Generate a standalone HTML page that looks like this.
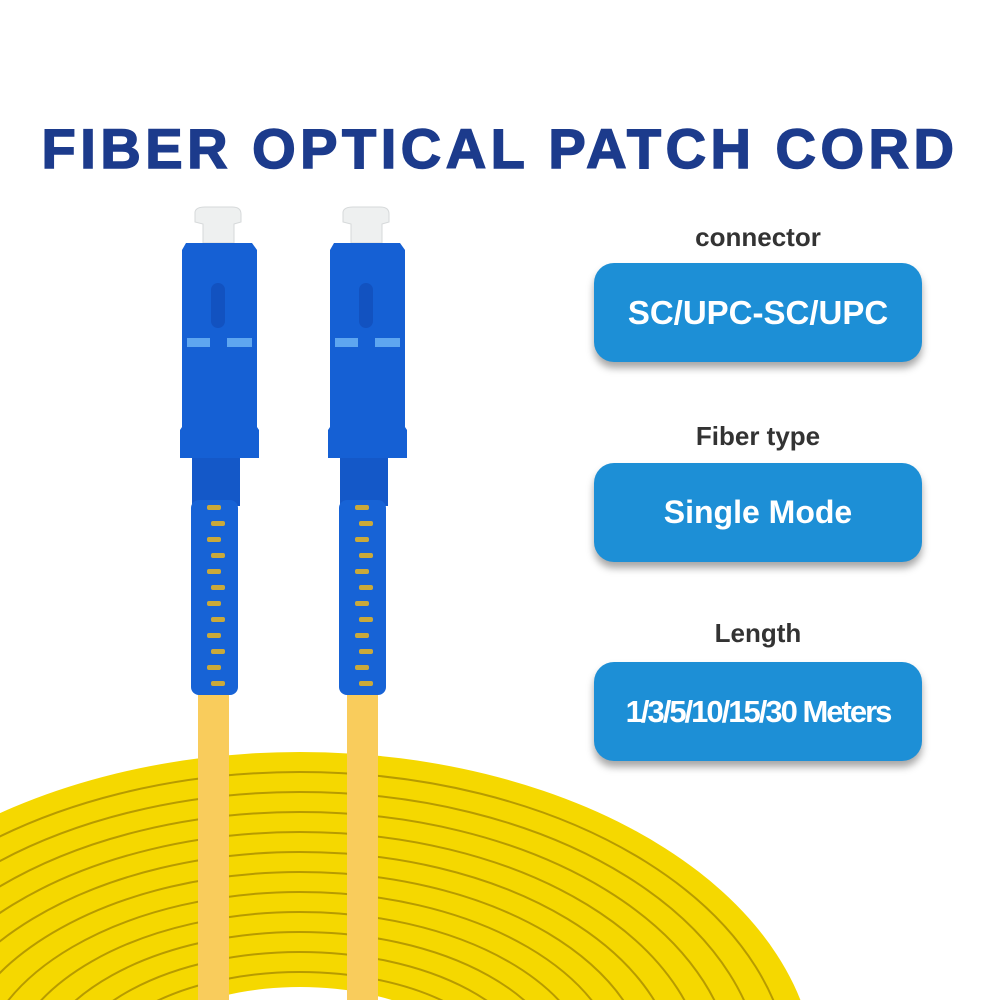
<!DOCTYPE html>
<html><head><meta charset="utf-8"><style>
html,body{margin:0;padding:0;background:#fff;width:1000px;height:1000px;overflow:hidden;}
#c{position:relative;width:1000px;height:1000px;overflow:hidden;background:#fff;font-family:"Liberation Sans",Arial,sans-serif;}
.title{position:absolute;left:0;top:116px;width:1000px;text-align:center;font-size:56px;font-weight:bold;color:#1c3b8c;letter-spacing:4.5px;-webkit-text-stroke:1.5px #1c3b8c;}
.lbl{position:absolute;left:594px;width:328px;text-align:center;font-size:26px;font-weight:bold;color:#333;}
.box{position:absolute;left:594px;width:328px;height:99px;border-radius:20px;background:#1d8fd6;color:#fff;font-weight:bold;display:flex;align-items:center;justify-content:center;box-shadow:0 6px 8px rgba(0,0,0,0.35);}
</style></head><body><div id="c">
<svg width="1000" height="1000" style="position:absolute;left:0;top:0">
<g>
<ellipse cx="300" cy="1080" rx="516" ry="328" fill="#f5d800"/>
<g fill="none" stroke="#a88c00" stroke-width="2" opacity="0.8">
<ellipse cx="300" cy="1080" rx="490" ry="308"/>
<ellipse cx="300" cy="1080" rx="462" ry="288"/>
<ellipse cx="300" cy="1080" rx="434" ry="268"/>
<ellipse cx="300" cy="1080" rx="406" ry="248"/>
<ellipse cx="300" cy="1080" rx="378" ry="228"/>
<ellipse cx="300" cy="1080" rx="350" ry="208"/>
<ellipse cx="300" cy="1080" rx="322" ry="188"/>
<ellipse cx="300" cy="1080" rx="294" ry="168"/>
<ellipse cx="300" cy="1080" rx="266" ry="148"/>
<ellipse cx="300" cy="1080" rx="238" ry="128"/>
<ellipse cx="300" cy="1080" rx="210" ry="108"/>
</g>
<ellipse cx="300" cy="1080" rx="180" ry="93" fill="#fff"/>
</g>
<rect x="198" y="690" width="31" height="310" fill="#f9cc5c"/>
<rect x="347" y="690" width="31" height="310" fill="#f9cc5c"/>
<g>
<path d="M195 212 Q196 207 205 207 L232 207 Q241 207 241 214 L241 222 L234 224 L234 243 L203 243 L203 224 L195 222 Z" fill="#eef0f0" stroke="#d6d9da"/>
<path d="M186 243 L252 243 L257 250 L257 427 L259 430 L259 458 L180 458 L180 430 L182 427 L182 250 Z" fill="#1560d4"/>
<rect x="211" y="283" width="14" height="45" rx="7" fill="#1252c0"/>
<rect x="187" y="338" width="23" height="9" fill="#5ea6f0"/>
<rect x="227" y="338" width="25" height="9" fill="#5ea6f0"/>
<rect x="192" y="458" width="48" height="48" fill="#1458c8"/>
<rect x="191" y="500" width="47" height="195" rx="8" fill="#1763d6"/>
<g fill="#c9a93a">
<rect x="207" y="505" width="14" height="5" rx="2"/><rect x="211" y="521" width="14" height="5" rx="2"/>
<rect x="207" y="537" width="14" height="5" rx="2"/><rect x="211" y="553" width="14" height="5" rx="2"/>
<rect x="207" y="569" width="14" height="5" rx="2"/><rect x="211" y="585" width="14" height="5" rx="2"/>
<rect x="207" y="601" width="14" height="5" rx="2"/><rect x="211" y="617" width="14" height="5" rx="2"/>
<rect x="207" y="633" width="14" height="5" rx="2"/><rect x="211" y="649" width="14" height="5" rx="2"/>
<rect x="207" y="665" width="14" height="5" rx="2"/><rect x="211" y="681" width="14" height="5" rx="2"/>
</g>
</g>
<g transform="translate(148,0)">
<path d="M195 212 Q196 207 205 207 L232 207 Q241 207 241 214 L241 222 L234 224 L234 243 L203 243 L203 224 L195 222 Z" fill="#eef0f0" stroke="#d6d9da"/>
<path d="M186 243 L252 243 L257 250 L257 427 L259 430 L259 458 L180 458 L180 430 L182 427 L182 250 Z" fill="#1560d4"/>
<rect x="211" y="283" width="14" height="45" rx="7" fill="#1252c0"/>
<rect x="187" y="338" width="23" height="9" fill="#5ea6f0"/>
<rect x="227" y="338" width="25" height="9" fill="#5ea6f0"/>
<rect x="192" y="458" width="48" height="48" fill="#1458c8"/>
<rect x="191" y="500" width="47" height="195" rx="8" fill="#1763d6"/>
<g fill="#c9a93a">
<rect x="207" y="505" width="14" height="5" rx="2"/><rect x="211" y="521" width="14" height="5" rx="2"/>
<rect x="207" y="537" width="14" height="5" rx="2"/><rect x="211" y="553" width="14" height="5" rx="2"/>
<rect x="207" y="569" width="14" height="5" rx="2"/><rect x="211" y="585" width="14" height="5" rx="2"/>
<rect x="207" y="601" width="14" height="5" rx="2"/><rect x="211" y="617" width="14" height="5" rx="2"/>
<rect x="207" y="633" width="14" height="5" rx="2"/><rect x="211" y="649" width="14" height="5" rx="2"/>
<rect x="207" y="665" width="14" height="5" rx="2"/><rect x="211" y="681" width="14" height="5" rx="2"/>
</g>
</g>
</svg>
<div class="title">FIBER OPTICAL PATCH CORD</div>
<div class="lbl" style="top:222px">connector</div>
<div class="box" style="top:263px;font-size:33px">SC/UPC-SC/UPC</div>
<div class="lbl" style="top:421px">Fiber type</div>
<div class="box" style="top:463px;font-size:32px">Single Mode</div>
<div class="lbl" style="top:618px">Length</div>
<div class="box" style="top:662px;font-size:31px;letter-spacing:-2px">1/3/5/10/15/30 Meters</div>
</div></body></html>
